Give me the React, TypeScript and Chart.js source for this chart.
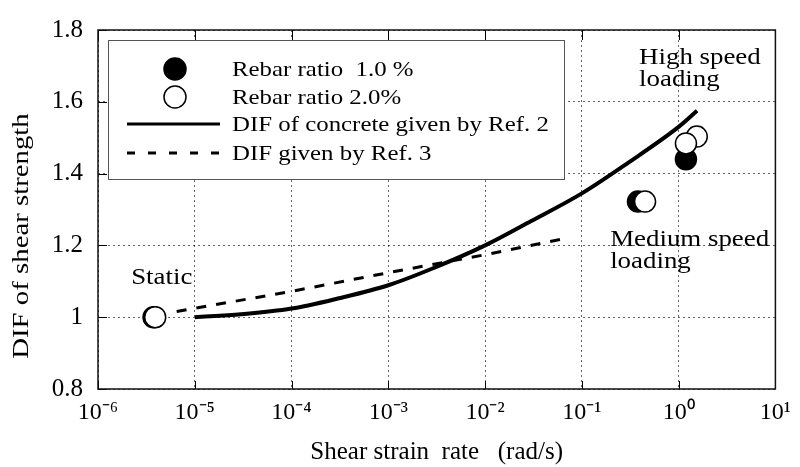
import React, { useEffect, useRef } from "react";
import { Chart, registerables } from "chart.js";

Chart.register(...registerables);

// ---- data ----
const xTickValues = [1e-6, 1e-5, 1e-4, 1e-3, 1e-2, 1e-1, 1, 10];
const xTickLabels = ["10⁻⁶", "10⁻⁵", "10⁻⁴", "10⁻³", "10⁻²", "10⁻¹", "10⁰", "10¹"];
const yTickValues = [0.8, 1.0, 1.2, 1.4, 1.6, 1.8];
const yTickLabels = ["0.8", "1", "1.2", "1.4", "1.6", "1.8"];

const rebar10Rate = [3.75e-6, 0.38, 1.19];
const rebar10Dif = [1.0, 1.322, 1.44];
const rebar20Rate = [3.9e-6, 0.45, 1.54, 1.19];
const rebar20Dif = [1.0, 1.322, 1.503, 1.484];
const ref2Rate = [1e-5, 3e-5, 1e-4, 3e-4, 1e-3, 3e-3, 1e-2, 3e-2, 1e-1, 3e-1, 1, 1.55];
const ref2Dif = [1.0, 1.008, 1.024, 1.052, 1.089, 1.138, 1.2, 1.268, 1.345, 1.43, 1.53, 1.575];
const ref3Rate = [6.5e-6, 1e-4, 1e-3, 1e-2, 7.5e-2];
const ref3Dif = [1.016, 1.072, 1.124, 1.174, 1.222];

const seriesLabels = [
  "Rebar ratio  1.0 %",
  "Rebar ratio 2.0%",
  "DIF of concrete given by Ref. 2",
  "DIF given by Ref. 3",
];

const xTitle = "Shear strain  rate   (rad/s)";
const yTitle = "DIF of shear strength";

const annotationTexts = [["Static"], ["High speed", "loading"], ["Medium speed", "loading"]];
const annotationAnchors = [
  { x: 2.2e-6, y: 1.092 },
  { x: 0.39, y: 1.705 },
  { x: 0.196, y: 1.197 },
];

const FONT = "'Liberation Serif', 'Times New Roman', serif";

const zip = (xs: number[], ys: number[]) => xs.map((x, i) => ({ x, y: ys[i] }));

function stretchText(ctx: CanvasRenderingContext2D, text: string, x: number, y: number, sx: number) {
  ctx.save();
  ctx.translate(x, y);
  ctx.scale(sx, 1);
  ctx.fillText(text, 0, 0);
  ctx.restore();
}

const decorPlugin = {
  id: "decor",
  beforeDatasetsDraw(chart: any) {
    const { ctx, chartArea } = chart;
    const ds = chart.data.datasets;
    // legend box
    const left = chartArea.left + 10;
    const top = chartArea.top + 10;
    const w = 456;
    const h = 139;
    ctx.save();
    ctx.fillStyle = "#fff";
    ctx.fillRect(left, top, w, h);
    ctx.strokeStyle = "#555";
    ctx.lineWidth = 1;
    ctx.strokeRect(left + 0.5, top + 0.5, w, h);
    const rows = [29, 57, 84, 113];
    const mx = left + 67;
    ctx.font = `22px ${FONT}`;
    ctx.textBaseline = "middle";
    ctx.textAlign = "left";
    rows.forEach((ry, i) => {
      const y = top + ry;
      const d = ds[i];
      if (i < 2) {
        ctx.beginPath();
        ctx.arc(mx, y, 11, 0, Math.PI * 2);
        ctx.fillStyle = d.backgroundColor;
        ctx.fill();
        ctx.lineWidth = 1.5;
        ctx.strokeStyle = "#000";
        ctx.stroke();
      } else {
        ctx.beginPath();
        ctx.setLineDash(i === 3 ? [8, 13] : []);
        ctx.lineWidth = 3;
        ctx.strokeStyle = "#000";
        ctx.moveTo(left + 19, y);
        ctx.lineTo(left + 112, y);
        ctx.stroke();
        ctx.setLineDash([]);
      }
      ctx.fillStyle = "#000";
      stretchText(ctx, d.label, left + 124, y + 1, 1.13);
    });
    ctx.restore();
  },
  afterDatasetsDraw(chart: any) {
    const { ctx, chartArea, scales } = chart;
    const xs = scales.x;
    const ys = scales.y;
    ctx.save();
    // inner ticks
    ctx.strokeStyle = "#000";
    ctx.lineWidth = 1;
    xTickValues.forEach((v) => {
      const px = Math.round(xs.getPixelForValue(v)) + 0.5;
      ctx.beginPath();
      ctx.moveTo(px, chartArea.top);
      ctx.lineTo(px, chartArea.top + 10);
      ctx.moveTo(px, chartArea.bottom);
      ctx.lineTo(px, chartArea.bottom - 8);
      ctx.stroke();
    });
    yTickValues.forEach((v) => {
      const py = Math.round(ys.getPixelForValue(v)) + 0.5;
      ctx.beginPath();
      ctx.moveTo(chartArea.left, py);
      ctx.lineTo(chartArea.left + 9, py);
      ctx.stroke();
    });
    // frame
    ctx.strokeStyle = "#111";
    ctx.lineWidth = 1.5;
    ctx.strokeRect(chartArea.left, chartArea.top, chartArea.right - chartArea.left, chartArea.bottom - chartArea.top);
    // annotations
    ctx.fillStyle = "#000";
    ctx.font = `24px ${FONT}`;
    ctx.textAlign = "left";
    ctx.textBaseline = "alphabetic";
    annotationTexts.forEach((lines, i) => {
      const a = annotationAnchors[i];
      const px = xs.getPixelForValue(a.x);
      const py = ys.getPixelForValue(a.y);
      lines.forEach((t, j) => stretchText(ctx, t, px, py + j * 22, 1.12));
    });
    // y title
    ctx.font = `24px ${FONT}`;
    ctx.textAlign = "center";
    ctx.textBaseline = "middle";
    ctx.save();
    ctx.translate(22, 236);
    ctx.rotate(-Math.PI / 2);
    ctx.scale(1.2, 1);
    ctx.fillText(yTitle, 0, 0);
    ctx.restore();
    ctx.restore();
  },
};

export default function App() {
  const ref = useRef<HTMLCanvasElement | null>(null);
  useEffect(() => {
    document.body.style.margin = "0";
    if (!ref.current) return;
    const chart = new Chart(ref.current, {
      type: "scatter",
      data: {
        datasets: [
          {
            label: seriesLabels[0],
            data: zip(rebar10Rate, rebar10Dif),
            backgroundColor: "#000",
            borderColor: "#000",
            borderWidth: 1.5,
            pointRadius: 10.5,
            showLine: false,
            order: 1,
          },
          {
            label: seriesLabels[1],
            data: zip(rebar20Rate, rebar20Dif),
            backgroundColor: "#fff",
            borderColor: "#000",
            borderWidth: 1.5,
            pointRadius: 10.5,
            showLine: false,
            order: 0,
          },
          {
            label: seriesLabels[2],
            data: zip(ref2Rate, ref2Dif),
            borderColor: "#000",
            backgroundColor: "#000",
            borderWidth: 4,
            pointRadius: 0,
            showLine: true,
            cubicInterpolationMode: "monotone",
            order: 2,
          },
          {
            label: seriesLabels[3],
            data: zip(ref3Rate, ref3Dif),
            borderColor: "#000",
            backgroundColor: "#000",
            borderWidth: 3,
            borderDash: [10, 10],
            pointRadius: 0,
            showLine: true,
            tension: 0,
            order: 3,
          },
        ],
      } as any,
      options: {
        animation: false,
        responsive: false,
        devicePixelRatio: 1,
        layout: { padding: { top: 19, right: 21, left: 0, bottom: 0 } },
        plugins: {
          legend: { display: false },
          tooltip: { enabled: false },
        },
        scales: {
          x: {
            type: "logarithmic",
            min: 1e-6,
            max: 10,
            afterBuildTicks: (s: any) => {
              s.ticks = xTickValues.map((v) => ({ value: v }));
            },
            afterFit: (s: any) => {
              s.height = 78;
            },
            grid: { color: "rgba(0,0,0,0.6)", lineWidth: 1, drawTicks: false },
            border: { display: false, dash: [2, 3] },
            ticks: {
              autoSkip: false,
              maxRotation: 0,
              padding: 9,
              color: "#000",
              font: { family: FONT, size: 24 },
              callback: (_v: any, i: number) => xTickLabels[i],
            },
            title: {
              display: true,
              text: xTitle,
              color: "#000",
              font: { family: FONT, size: 25 },
              padding: { top: 0, bottom: 0 },
            },
          },
          y: {
            type: "linear",
            min: 0.8,
            max: 1.8,
            afterBuildTicks: (s: any) => {
              s.ticks = yTickValues.map((v) => ({ value: v }));
            },
            afterFit: (s: any) => {
              s.width = 98;
            },
            grid: { color: "rgba(0,0,0,0.6)", lineWidth: 1, drawTicks: false },
            border: { display: false, dash: [2, 3] },
            ticks: {
              padding: 15,
              color: "#000",
              font: { family: FONT, size: 25 },
              callback: (_v: any, i: number) => yTickLabels[i],
            },
          },
        },
      } as any,
      plugins: [decorPlugin],
    });
    return () => chart.destroy();
  }, []);
  return <canvas ref={ref} width={800} height={467} style={{ display: "block" }} />;
}
